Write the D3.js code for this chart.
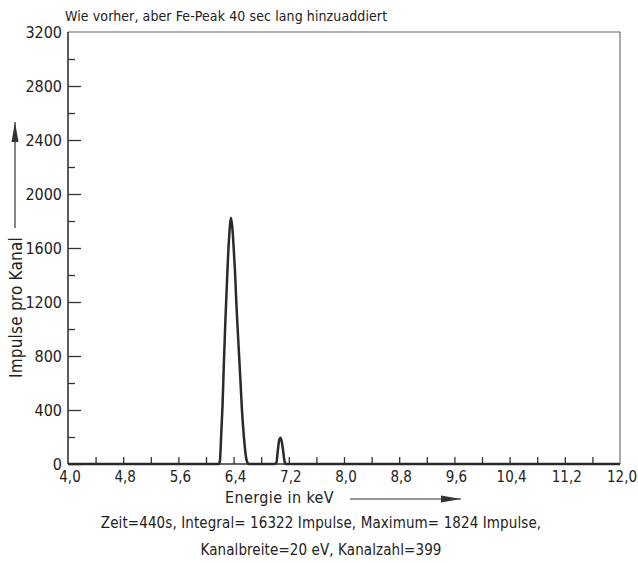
<!DOCTYPE html>
<html>
<head>
<meta charset="utf-8">
<script src="https://cdn.jsdelivr.net/npm/d3@7"></script>
<style>
  html, body { margin: 0; padding: 0; background: #fff; }
  svg text { font-family: "Liberation Sans Narrow", "DejaVu Sans Condensed", "Noto Sans", sans-serif; fill: #222; }
</style>
</head>
<body>
<div id="chart"></div>
<script>
// spectrum (keV, counts per channel)
const energies = [4.0, 6.18, 6.20, 6.22, 6.24, 6.26, 6.28, 6.30, 6.32, 6.34, 6.36, 6.38, 6.40,
    6.42, 6.44, 6.46, 6.48, 6.50, 6.52, 6.54, 6.56, 6.58, 6.60, 6.62,
    7.00, 7.02, 7.04, 7.06, 7.08, 7.10, 7.12, 7.14, 7.16, 12.0];
const counts = [0, 0, 15, 210, 440, 760, 1050, 1300, 1540, 1720, 1824, 1760, 1610,
    1430, 1190, 990, 800, 610, 410, 260, 140, 50, 10, 0,
    0, 10, 95, 175, 195, 160, 90, 15, 0, 0];

const xTicks = [4.0, 4.4, 4.8, 5.2, 5.6, 6.0, 6.4, 6.8, 7.2, 7.6, 8.0, 8.4, 8.8, 9.2, 9.6, 10.0,
    10.4, 10.8, 11.2, 11.6, 12.0];
const xLabelValues = [4.0, 4.8, 5.6, 6.4, 7.2, 8.0, 8.8, 9.6, 10.4, 11.2, 12.0];
const xLabels = ["4,0", "4,8", "5,6", "6,4", "7,2", "8,0", "8,8", "9,6", "10,4", "11,2", "12,0"];
const yMajor = [0, 400, 800, 1200, 1600, 2000, 2400, 2800, 3200];
const yMinor = [200, 600, 1000, 1400, 1800, 2200, 2600, 3000];

const titleText = "Wie vorher, aber Fe-Peak 40 sec lang hinzuaddiert";
const yTitle = "Impulse pro Kanal";
const xTitle = "Energie in keV";
const infoLines = [
    "Zeit=440s, Integral= 16322 Impulse, Maximum= 1824 Impulse,",
    "Kanalbreite=20 eV, Kanalzahl=399"
];

const svg = d3.select("#chart")
    .append("svg")
    .attr("width", 638)
    .attr("height", 563);

const margin = {top: 32, right: 18, bottom: 99, left: 68},
    width = 638 - margin.left - margin.right,
    height = 563 - margin.top - margin.bottom;

const x = d3.scaleLinear().domain([4, 12]).range([margin.left, margin.left + width]);
const y = d3.scaleLinear().domain([0, 3200]).range([margin.top + height, margin.top]);

// frame (top and right)
svg.append("path")
    .attr("d", `M${x(4)},${y(3200)}H${x(12)}V${y(0)}`)
    .attr("fill", "none")
    .attr("stroke", "#666")
    .attr("stroke-width", 1.1);

// y axis, ticks pointing inward
svg.append("g")
    .attr("transform", `translate(${x(4)},0)`)
    .call(d3.axisRight(y).tickValues(yMajor.slice(0, -1)).tickSize(13).tickFormat(""))
    .call(g => g.select(".domain").remove())
    .selectAll("line").attr("stroke", "#333").attr("stroke-width", 1.3);

svg.append("g")
    .attr("transform", `translate(${x(4)},0)`)
    .call(d3.axisRight(y).tickValues(yMinor).tickSize(7).tickFormat(""))
    .call(g => g.select(".domain").remove())
    .selectAll("line").attr("stroke", "#333").attr("stroke-width", 1.3);

svg.append("line")
    .attr("x1", x(4)).attr("x2", x(4))
    .attr("y1", y(3200)).attr("y2", y(0))
    .attr("stroke", "#333").attr("stroke-width", 1.6);

svg.append("g").selectAll("text")
    .data(yMajor)
    .join("text")
    .attr("x", x(4) - 6)
    .attr("y", d => y(d) + 6)
    .attr("text-anchor", "end")
    .attr("font-size", 16)
    .text(d => d);

// x axis, ticks pointing up
svg.append("g")
    .attr("transform", `translate(0,${y(0)})`)
    .call(d3.axisTop(x).tickValues(xTicks.slice(1, -1)).tickSize(7).tickFormat(""))
    .call(g => g.select(".domain").remove())
    .selectAll("line").attr("stroke", "#333").attr("stroke-width", 1.3);

svg.append("line")
    .attr("x1", x(4)).attr("x2", x(12))
    .attr("y1", y(0)).attr("y2", y(0))
    .attr("stroke", "#333").attr("stroke-width", 1.6);

svg.append("g").selectAll("text")
    .data(xLabelValues)
    .join("text")
    .attr("x", d => x(d) + 2)
    .attr("y", y(0) + 18)
    .attr("text-anchor", "middle")
    .attr("font-size", 15)
    .text((d, i) => xLabels[i]);

// spectrum curve
const line = d3.line()
    .x((d, i) => x(energies[i]))
    .y(d => y(d))
    .curve(d3.curveMonotoneX);

svg.append("path")
    .datum(counts)
    .attr("d", line)
    .attr("fill", "none")
    .attr("stroke", "#2a2a2a")
    .attr("stroke-width", 2.5)
    .attr("stroke-linejoin", "round");

// titles
svg.append("text")
    .attr("x", 65)
    .attr("y", 21)
    .attr("font-size", 14)
    .attr("letter-spacing", 0.1)
    .text(titleText);

svg.append("defs").append("marker")
    .attr("id", "arrowHead")
    .attr("viewBox", "0 0 20 10")
    .attr("refX", 20).attr("refY", 5)
    .attr("markerWidth", 20).attr("markerHeight", 10)
    .attr("markerUnits", "userSpaceOnUse")
    .attr("orient", "auto")
  .append("path")
    .attr("d", "M0,1.5L20,5L0,8.5Z")
    .attr("fill", "#333");

svg.append("text")
    .attr("transform", "translate(22,378) rotate(-90)")
    .attr("font-size", 17)
    .attr("letter-spacing", 0.2)
    .text(yTitle);

svg.append("line")
    .attr("x1", 15).attr("x2", 15)
    .attr("y1", 228).attr("y2", 122)
    .attr("stroke", "#333").attr("stroke-width", 1.2)
    .attr("marker-end", "url(#arrowHead)");

svg.append("text")
    .attr("x", 225)
    .attr("y", 503)
    .attr("font-size", 16)
    .attr("letter-spacing", 0.4)
    .text(xTitle);

svg.append("line")
    .attr("x1", 350).attr("x2", 461)
    .attr("y1", 499).attr("y2", 499)
    .attr("stroke", "#333").attr("stroke-width", 1.2)
    .attr("marker-end", "url(#arrowHead)");

svg.append("g").selectAll("text")
    .data(infoLines)
    .join("text")
    .attr("x", 321)
    .attr("y", (d, i) => 528 + i * 27)
    .attr("text-anchor", "middle")
    .attr("font-size", 15)
    .attr("letter-spacing", 0.1)
    .text(d => d);
</script>
</body>
</html>
